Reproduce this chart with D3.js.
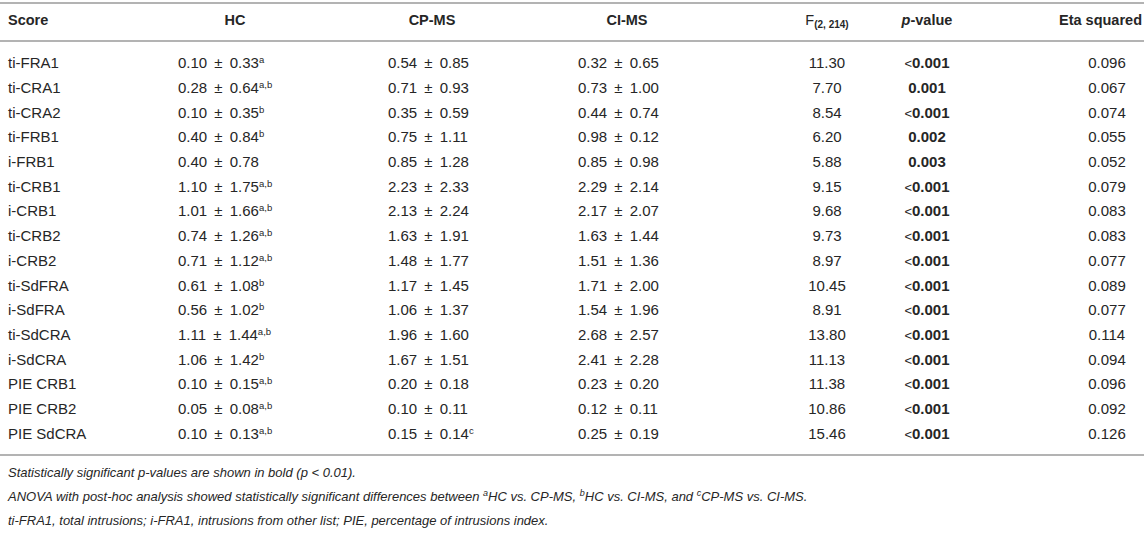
<!DOCTYPE html>
<html>
<head>
<meta charset="utf-8">
<script src="https://cdn.jsdelivr.net/npm/d3@7"></script>
<style>
  body { margin: 0; background: #fff; }
  text { font-family: "Liberation Sans", Arial, sans-serif; fill: #262626; }
</style>
</head>
<body>
<div id="table"></div>
<script>
// table values
const scores = ["ti-FRA1", "ti-CRA1", "ti-CRA2", "ti-FRB1", "i-FRB1", "ti-CRB1", "i-CRB1", "ti-CRB2",
    "i-CRB2", "ti-SdFRA", "i-SdFRA", "ti-SdCRA", "i-SdCRA", "PIE CRB1", "PIE CRB2", "PIE SdCRA"];
const hcMean = ["0.10", "0.28", "0.10", "0.40", "0.40", "1.10", "1.01", "0.74", "0.71", "0.61", "0.56", "1.11", "1.06", "0.10", "0.05", "0.10"];
const hcSd = ["0.33", "0.64", "0.35", "0.84", "0.78", "1.75", "1.66", "1.26", "1.12", "1.08", "1.02", "1.44", "1.42", "0.15", "0.08", "0.13"];
const hcSup = ["a", "a,b", "b", "b", "", "a,b", "a,b", "a,b", "a,b", "b", "b", "a,b", "b", "a,b", "a,b", "a,b"];
const cpMean = ["0.54", "0.71", "0.35", "0.75", "0.85", "2.23", "2.13", "1.63", "1.48", "1.17", "1.06", "1.96", "1.67", "0.20", "0.10", "0.15"];
const cpSd = ["0.85", "0.93", "0.59", "1.11", "1.28", "2.33", "2.24", "1.91", "1.77", "1.45", "1.37", "1.60", "1.51", "0.18", "0.11", "0.14"];
const cpSup = ["", "", "", "", "", "", "", "", "", "", "", "", "", "", "", "c"];
const ciMean = ["0.32", "0.73", "0.44", "0.98", "0.85", "2.29", "2.17", "1.63", "1.51", "1.71", "1.54", "2.68", "2.41", "0.23", "0.12", "0.25"];
const ciSd = ["0.65", "1.00", "0.74", "0.12", "0.98", "2.14", "2.07", "1.44", "1.36", "2.00", "1.96", "2.57", "2.28", "0.20", "0.11", "0.19"];
const fValues = ["11.30", "7.70", "8.54", "6.20", "5.88", "9.15", "9.68", "9.73", "8.97", "10.45", "8.91", "13.80", "11.13", "11.38", "10.86", "15.46"];
const pValues = ["<0.001", "0.001", "<0.001", "0.002", "0.003", "<0.001", "<0.001", "<0.001", "<0.001", "<0.001", "<0.001", "<0.001", "<0.001", "<0.001", "<0.001", "<0.001"];
const etaValues = ["0.096", "0.067", "0.074", "0.055", "0.052", "0.079", "0.083", "0.083", "0.077", "0.089", "0.077", "0.114", "0.094", "0.096", "0.092", "0.126"];

const width = 1144, height = 551;
const ruleColor = "#b3b3b3";

const svg = d3.select("#table")
    .append("svg")
    .attr("width", width)
    .attr("height", height);

// rows
const y = d3.scaleBand()
    .domain(d3.range(scores.length))
    .range([51, 446]);

// column anchors
const col = {
    score: 8,
    hc: 178, hcHead: 235,
    cp: 388, cpHead: 432,
    ci: 578, ciHead: 627,
    f: 827, p: 927, eta: 1107, etaHead: 1142
};

// rules
[3, 41, 455].forEach(yy => {
    svg.append("line")
        .attr("x1", 0).attr("x2", width)
        .attr("y1", yy).attr("y2", yy)
        .attr("stroke", ruleColor)
        .attr("stroke-width", 2);
});

// header
const head = svg.append("g")
    .style("font-weight", "bold")
    .style("font-size", "14.5px");
const headY = 25;
head.append("text").attr("x", col.score).attr("y", headY).text("Score");
head.append("text").attr("x", col.hcHead).attr("y", headY).attr("text-anchor", "middle").text("HC");
head.append("text").attr("x", col.cpHead).attr("y", headY).attr("text-anchor", "middle").text("CP-MS");
head.append("text").attr("x", col.ciHead).attr("y", headY).attr("text-anchor", "middle").text("CI-MS");
const fHead = head.append("text").attr("x", col.f).attr("y", headY).attr("text-anchor", "middle");
fHead.append("tspan").style("font-weight", "normal").text("F");
fHead.append("tspan").attr("dy", 3).style("font-size", "10px").text("(2, 214)");
const pHead = head.append("text").attr("x", col.p).attr("y", headY).attr("text-anchor", "middle");
pHead.append("tspan").style("font-style", "italic").text("p");
pHead.append("tspan").text("-value");
head.append("text").attr("x", col.etaHead).attr("y", headY).attr("text-anchor", "end").text("Eta squared");

// body
const rows = svg.append("g")
    .style("font-size", "15px")
    .selectAll("g")
    .data(scores)
    .join("g")
    .attr("transform", (d, i) => `translate(0,${y(i) + y.bandwidth() / 2 + 5})`);

rows.append("text").attr("x", col.score).text(d => d);

function meanSd(sel, x, means, sds, sups) {
    const t = sel.append("text").attr("x", x);
    t.append("tspan").text((d, i) => `${means[i]}\u2009 \u00b1 \u2009${sds[i]}`);
    t.append("tspan")
        .attr("dy", -5)
        .style("font-size", "9.5px")
        .text((d, i) => sups ? sups[i] : "");
}
meanSd(rows, col.hc, hcMean, hcSd, hcSup);
meanSd(rows, col.cp, cpMean, cpSd, cpSup);
meanSd(rows, col.ci, ciMean, ciSd, null);

rows.append("text").attr("x", col.f).attr("text-anchor", "middle").text((d, i) => fValues[i]);

const pText = rows.append("text").attr("x", col.p).attr("text-anchor", "middle");
pText.append("tspan").style("font-size", "13px").text((d, i) => pValues[i].startsWith("<") ? "<" : "");
pText.append("tspan").style("font-weight", "bold").text((d, i) => pValues[i].replace("<", ""));

rows.append("text").attr("x", col.eta).attr("text-anchor", "middle").text((d, i) => etaValues[i]);

// footnotes
const notes = svg.append("g")
    .style("font-size", "13px")
    .style("font-style", "italic");
notes.append("text").attr("x", col.score).attr("y", 477)
    .text("Statistically significant p-values are shown in bold (p < 0.01).");
const n2 = notes.append("text").attr("x", col.score).attr("y", 501);
n2.append("tspan").text("ANOVA with post-hoc analysis showed statistically significant differences between ");
n2.append("tspan").attr("dy", -5).style("font-size", "9px").text("a");
n2.append("tspan").attr("dy", 5).text("HC vs. CP-MS, ");
n2.append("tspan").attr("dy", -5).style("font-size", "9px").text("b");
n2.append("tspan").attr("dy", 5).text("HC vs. CI-MS, and ");
n2.append("tspan").attr("dy", -5).style("font-size", "9px").text("c");
n2.append("tspan").attr("dy", 5).text("CP-MS vs. CI-MS.");
notes.append("text").attr("x", col.score).attr("y", 525)
    .text("ti-FRA1, total intrusions; i-FRA1, intrusions from other list; PIE, percentage of intrusions index.");
</script>
</body>
</html>
